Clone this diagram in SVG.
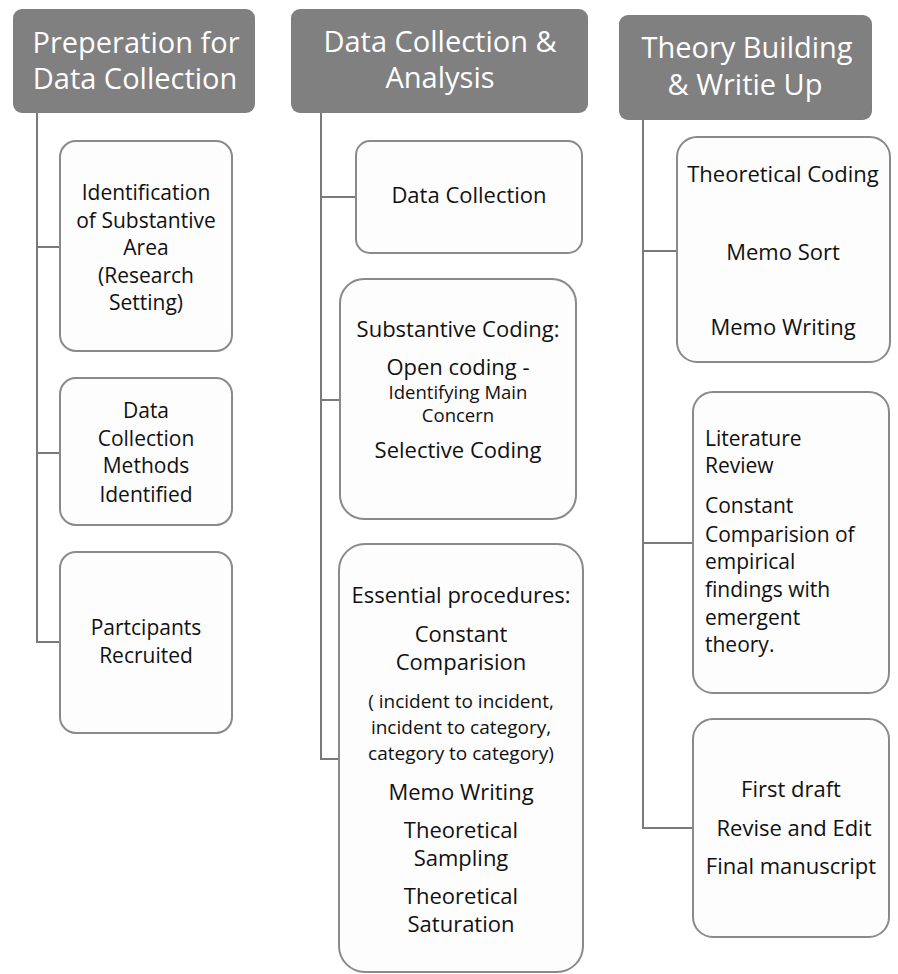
<svg xmlns="http://www.w3.org/2000/svg" width="898" height="974" viewBox="0 0 898 974">
<style>
.hdr{fill:#808080;stroke:none}
.hdrt{fill:#ffffff;font-family:"Open Sans","Noto Sans",sans-serif;font-size:29px;text-anchor:middle}
.box{fill:#fdfdfd;stroke:#8a8a8a;stroke-width:2}
.t{fill:#111111;font-family:"Open Sans","Noto Sans",sans-serif;font-size:22px;text-anchor:middle}
.c1{font-size:21px}
.sm{font-size:18.5px}
.md{font-size:19px}
.lt{text-anchor:start;font-size:21px}
.conn{fill:none;stroke:#7a7a7a;stroke-width:2}
</style>
<rect width="898" height="974" fill="#ffffff"/>
<g id="connectors">
<path class="conn" d="M37,113 V642 H60 M37,247 H60 M37,453 H60"/>
<path class="conn" d="M321,113 V759 H339 M321,197 H356 M321,400 H340"/>
<path class="conn" d="M643,120 V828 H693 M643,251 H677 M643,543 H693"/>
</g>
<g id="h1">
<rect class="hdr" x="13" y="9" width="242" height="104" rx="9"/>
<text class="hdrt" x="136" y="53">Preperation for</text>
<text class="hdrt" x="135" y="89">Data Collection</text>
</g>
<g id="h2">
<rect class="hdr" x="291" y="9" width="297" height="104" rx="9"/>
<text class="hdrt" x="440" y="52">Data Collection &amp;</text>
<text class="hdrt" x="440" y="88">Analysis</text>
</g>
<g id="h3">
<rect class="hdr" x="619" y="15" width="253" height="105" rx="9"/>
<text class="hdrt" x="747" y="58">Theory Building</text>
<text class="hdrt" x="745" y="95">&amp; Writie Up</text>
</g>
<g id="n1a">
<rect class="box" x="60" y="141" width="172" height="210" rx="16"/>
<text class="t c1" x="146" y="200">Identification</text>
<text class="t c1" x="146" y="228">of Substantive</text>
<text class="t c1" x="146" y="255">Area</text>
<text class="t c1" x="146" y="283">(Research</text>
<text class="t c1" x="146" y="310">Setting)</text>
</g>
<g id="n1b">
<rect class="box" x="60" y="378" width="172" height="147" rx="16"/>
<text class="t c1" x="146" y="418">Data</text>
<text class="t c1" x="146" y="446">Collection</text>
<text class="t c1" x="146" y="473">Methods</text>
<text class="t c1" x="146" y="502">Identified</text>
</g>
<g id="n1c">
<rect class="box" x="60" y="552" width="172" height="181" rx="16"/>
<text class="t c1" x="146" y="635">Partcipants</text>
<text class="t c1" x="146" y="663">Recruited</text>
</g>
<g id="n2a">
<rect class="box" x="356" y="141" width="226" height="112" rx="14"/>
<text class="t" x="469" y="203">Data Collection</text>
</g>
<g id="n2b">
<rect class="box" x="340" y="279" width="236" height="240" rx="24"/>
<text class="t" x="458" y="337">Substantive Coding:</text>
<text class="t" x="458" y="375">Open coding -</text>
<text class="t sm" x="458" y="399">Identifying Main</text>
<text class="t sm" x="458" y="422">Concern</text>
<text class="t" x="458" y="458">Selective Coding</text>
</g>
<g id="n2c">
<rect class="box" x="339" y="544" width="244" height="428" rx="26"/>
<text class="t" x="461" y="603">Essential procedures:</text>
<text class="t" x="461" y="642">Constant</text>
<text class="t" x="461" y="670">Comparision</text>
<text class="t md" x="461" y="708">( incident to incident,</text>
<text class="t md" x="461" y="734">incident to category,</text>
<text class="t md" x="461" y="760">category to category)</text>
<text class="t" x="461" y="800">Memo Writing</text>
<text class="t" x="461" y="838">Theoretical</text>
<text class="t" x="461" y="866">Sampling</text>
<text class="t" x="461" y="904">Theoretical</text>
<text class="t" x="461" y="932">Saturation</text>
</g>
<g id="n3a">
<rect class="box" x="677" y="137" width="213" height="225" rx="20"/>
<text class="t" x="783" y="182">Theoretical Coding</text>
<text class="t" x="783" y="260">Memo Sort</text>
<text class="t" x="783" y="335">Memo Writing</text>
</g>
<g id="n3b">
<rect class="box" x="693" y="392" width="196" height="301" rx="20"/>
<text class="t lt" x="705" y="446">Literature</text>
<text class="t lt" x="705" y="473">Review</text>
<text class="t lt" x="705" y="513">Constant</text>
<text class="t lt" x="705" y="542">Comparision of</text>
<text class="t lt" x="705" y="569">empirical</text>
<text class="t lt" x="705" y="597">findings with</text>
<text class="t lt" x="705" y="625">emergent</text>
<text class="t lt" x="705" y="652">theory.</text>
</g>
<g id="n3c">
<rect class="box" x="693" y="719" width="196" height="218" rx="20"/>
<text class="t" x="791" y="797">First draft</text>
<text class="t" x="794" y="836">Revise and Edit</text>
<text class="t" x="791" y="874">Final manuscript</text>
</g>
</svg>
